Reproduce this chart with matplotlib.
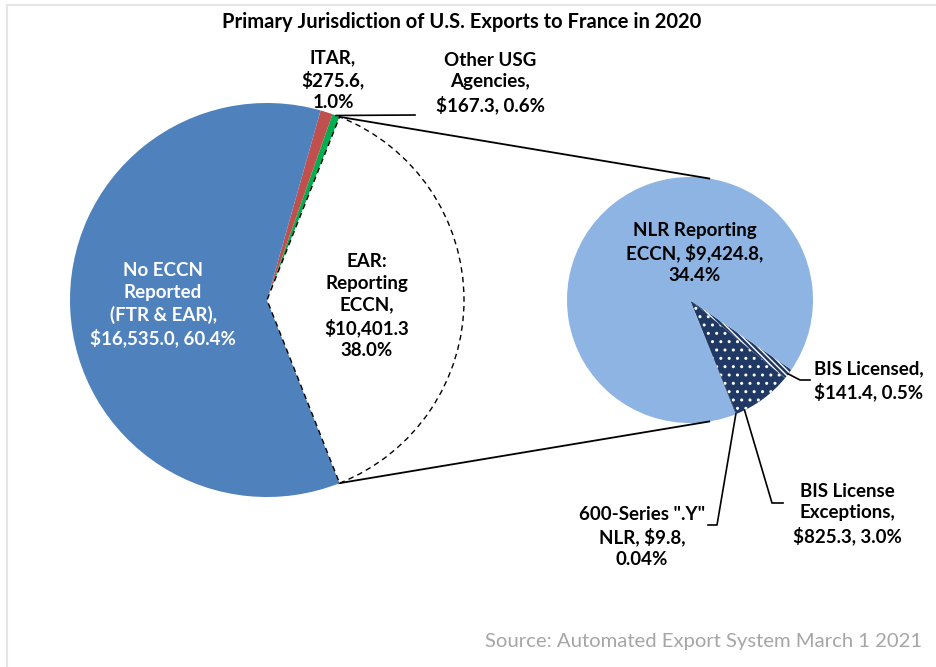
import numpy as np
import matplotlib
matplotlib.use("Agg")
import matplotlib.pyplot as plt
from matplotlib.lines import Line2D

plt.rcParams['font.family'] = ['Lato', 'DejaVu Sans']
plt.rcParams['hatch.linewidth'] = 1.0

W, H = 936, 667

# ---- data ----
main_labels = ["EAR: Reporting ECCN", "Other USG Agencies", "ITAR", "No ECCN Reported (FTR & EAR)"]
main_values = [10401.3, 167.3, 275.6, 16535.0]
main_pcts = ["38.0%", "0.6%", "1.0%", "60.4%"]

sub_labels = ['600-Series ".Y" NLR', "BIS License Exceptions", "BIS Licensed", "NLR Reporting ECCN"]
sub_values = [9.8, 825.3, 141.4, 9424.8]
sub_pcts = ["0.04%", "3.0%", "0.5%", "34.4%"]

title = "Primary Jurisdiction of U.S. Exports to France in 2020"
source = "Source: Automated Export System March 1 2021"

fig = plt.figure(figsize=(W / 100, H / 100), dpi=100)
ax = fig.add_axes([0, 0, 1, 1])

def Y(y):
    return H - y

main_center = (267, Y(300))
main_r = 197
sub_center = (690, Y(300))
sub_r = 123

ear_frac = main_values[0] / sum(main_values)
main_colors = ["white", "#00B050", "#C0504D", "#4F81BD"]
mw, _ = ax.pie(main_values, colors=main_colors, startangle=-180 * ear_frac,
               counterclock=True, center=main_center, radius=main_r,
               wedgeprops=dict(linewidth=0))
mw[0].set_edgecolor("black")
mw[0].set_linestyle((0, (4, 3)))
mw[0].set_linewidth(1.0)
mw[0].set_zorder(3)

sub_colors = ["#1F3864", "#1F3864", "#1F3864", "#8DB4E2"]
sw, _ = ax.pie(sub_values, colors=sub_colors, startangle=-68.3,
               counterclock=True, center=sub_center, radius=sub_r,
               wedgeprops=dict(linewidth=0))
sw[1].set_hatch("..")
sw[1].set_edgecolor("white")
sw[1].set_linewidth(0)
sw[2].set_hatch("\\\\\\\\\\\\")
sw[2].set_edgecolor("white")
sw[2].set_linewidth(0)

ax.set_xlim(0, W)
ax.set_ylim(0, H)
ax.set_aspect("equal")
ax.axis("off")

def pt(c, r, ang):
    a = np.deg2rad(ang)
    return c[0] + r * np.cos(a), c[1] + r * np.sin(a)

# connector lines between pies
t1, t2 = mw[0].theta1, mw[0].theta2
p_top = pt(main_center, main_r, t2)
p_bot = pt(main_center, main_r, t1)
q_top = pt(sub_center, sub_r, 81)
q_bot = pt(sub_center, sub_r, -81)
ax.add_line(Line2D([p_top[0], q_top[0]], [p_top[1], q_top[1]], color="black", lw=1.3))
ax.add_line(Line2D([p_bot[0], q_bot[0]], [p_bot[1], q_bot[1]], color="black", lw=1.3))

fs = 13.5
bold = dict(fontsize=fs, fontweight="bold", ha="center", va="center", linespacing=1.32)

def money(v):
    return "${:,.1f}".format(v)

# title
ax.text(462, Y(22), title, fontsize=14.5, fontweight="bold", ha="center", va="center")

# main labels
ax.text(163, Y(305), "No ECCN\nReported\n(FTR & EAR),\n" + money(main_values[3]) + ", " + main_pcts[3],
        color="white", **bold)
ax.text(367, Y(306), "EAR:\nReporting\nECCN,\n" + money(main_values[0]) + "\n" + main_pcts[0],
        color="black", zorder=5, **bold)
ax.text(333, Y(80), "ITAR,\n" + money(main_values[2]) + ",\n" + main_pcts[2], **bold)
ax.text(490, Y(83), "Other USG\nAgencies,\n" + money(main_values[1]) + ", " + main_pcts[1], **bold)
g_mid = pt(main_center, main_r, (mw[1].theta1 + mw[1].theta2) / 2)
ax.add_line(Line2D([g_mid[0], 415], [g_mid[1], Y(115)], color="black", lw=1.2))

# sub labels
ax.text(695, Y(253), "NLR Reporting\nECCN, " + money(sub_values[3]) + ",\n" + sub_pcts[3], **bold)
ax.text(869, Y(381), "BIS Licensed,\n" + money(sub_values[2]) + ", " + sub_pcts[2], **bold)
ax.text(847, Y(514), "BIS License\nExceptions,\n" + money(sub_values[1]) + ", " + sub_pcts[1], **bold)
ax.text(642, Y(537), '600-Series ".Y"\nNLR, ' + money(sub_values[0]) + ",\n" + sub_pcts[0], **bold)

# leaders on sub pie
lic = pt(sub_center, sub_r, (sw[2].theta1 + sw[2].theta2) / 2)
ax.add_line(Line2D([lic[0], 800, 810], [lic[1], Y(380), Y(380)], color="black", lw=1.2))
exc = pt(sub_center, sub_r, sw[1].theta1 + 0.15 * (sw[1].theta2 - sw[1].theta1))
ax.add_line(Line2D([exc[0], 772, 783], [exc[1], Y(503), Y(503)], color="black", lw=1.2))
y6 = pt(sub_center, sub_r, (sw[0].theta1 + sw[0].theta2) / 2)
ax.add_line(Line2D([y6[0], 717, 708], [y6[1], Y(525), Y(525)], color="black", lw=1.2))

# source
ax.text(922, Y(641), source, fontsize=14.6, color="#A6A6A6", ha="right", va="center")

# light frame lines (top & left)
ax.add_line(Line2D([7, W], [Y(5), Y(5)], color="#E6E6E6", lw=1.5))
ax.add_line(Line2D([7, 7], [Y(5), 0], color="#E6E6E6", lw=1.5))

fig.savefig("out.png", dpi=100)
